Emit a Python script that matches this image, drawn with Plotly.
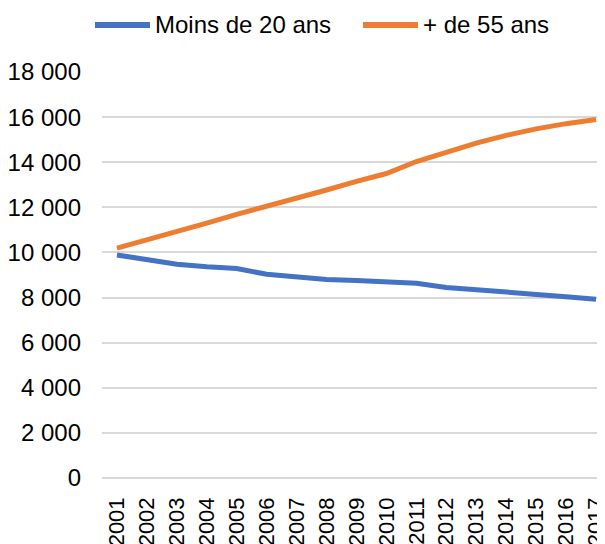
import plotly.graph_objects as go

years = [str(y) for y in range(2001, 2018)]
moins_20 = [9890, 9690, 9480, 9370, 9290, 9030, 8890, 8800, 8760, 8700, 8630, 8450, 8330, 8210, 8140, 8040, 7920]
plus_55 = [10190, 10550, 10920, 11300, 11690, 12040, 12400, 12770, 13150, 13500, 14030, 14430, 14850, 15190, 15480, 15710, 15890]
series_names = ["Moins de 20 ans", "+ de 55 ans"]
series_colors = ["#4472C4", "#ED7D31"]
y_tickvals = [0, 2000, 4000, 6000, 8000, 10000, 12000, 14000, 16000, 18000]
y_ticktext = ["0", "2 000", "4 000", "6 000", "8 000", "10 000", "12 000", "14 000", "16 000", "18 000"]

# page body has an 8px margin: the figure is offset by 8px
OFF = 8
W, H = 605 - OFF, 544 - OFF
ML, MR, MT, MB = 102 - OFF, 0, 72 - OFF, 544 - 478
FONT = "Liberation Sans, Arial, sans-serif"
FS = 24

fig = go.Figure()
for name, vals, col in zip(series_names, [moins_20, plus_55], series_colors):
    fig.add_trace(go.Scatter(x=years, y=vals, name=name, mode="lines",
                             line=dict(color=col, width=5), showlegend=False))

# custom legend (screen pixel -> paper conversion)
pw, ph = W - ML - MR, H - MT - MB
def px(x):
    return (x - OFF - ML) / pw
def py(y):
    return (H - MB - (y - OFF)) / ph

legend_items = [(95, 150, 153), (363, 418, 421)]
for (x0, x1, xt), name, col in zip(legend_items, series_names, series_colors):
    fig.add_shape(type="line", xref="paper", yref="paper", x0=px(x0), x1=px(x1),
                  y0=py(25), y1=py(25), line=dict(color=col, width=6))
    fig.add_annotation(xref="paper", yref="paper", x=px(xt), y=py(25), text=name,
                       showarrow=False, xanchor="left", yanchor="middle",
                       font=dict(size=FS, color="#000000", family=FONT))

fig.update_layout(
    width=W, height=H,
    margin=dict(l=ML, r=MR, t=MT, b=MB, autoexpand=False),
    paper_bgcolor="white", plot_bgcolor="white",
    font=dict(family=FONT, size=FS, color="#000000"),
    xaxis=dict(type="category", range=[-0.5, 16.3], tickangle=-90,
               showgrid=False, showline=False, zeroline=False, ticks="",
               ticklabelstandoff=14, tickfont=dict(size=22), automargin=False),
    yaxis=dict(range=[0, 18000], tickvals=y_tickvals, ticktext=y_ticktext,
               showgrid=True, gridcolor="#D9D9D9", gridwidth=1.5,
               zeroline=True, zerolinecolor="#D9D9D9", zerolinewidth=1.5,
               showline=False, ticks="", ticklabelstandoff=20,
               tickfont=dict(size=FS), automargin=False),
)

fig.write_html("out.html")
